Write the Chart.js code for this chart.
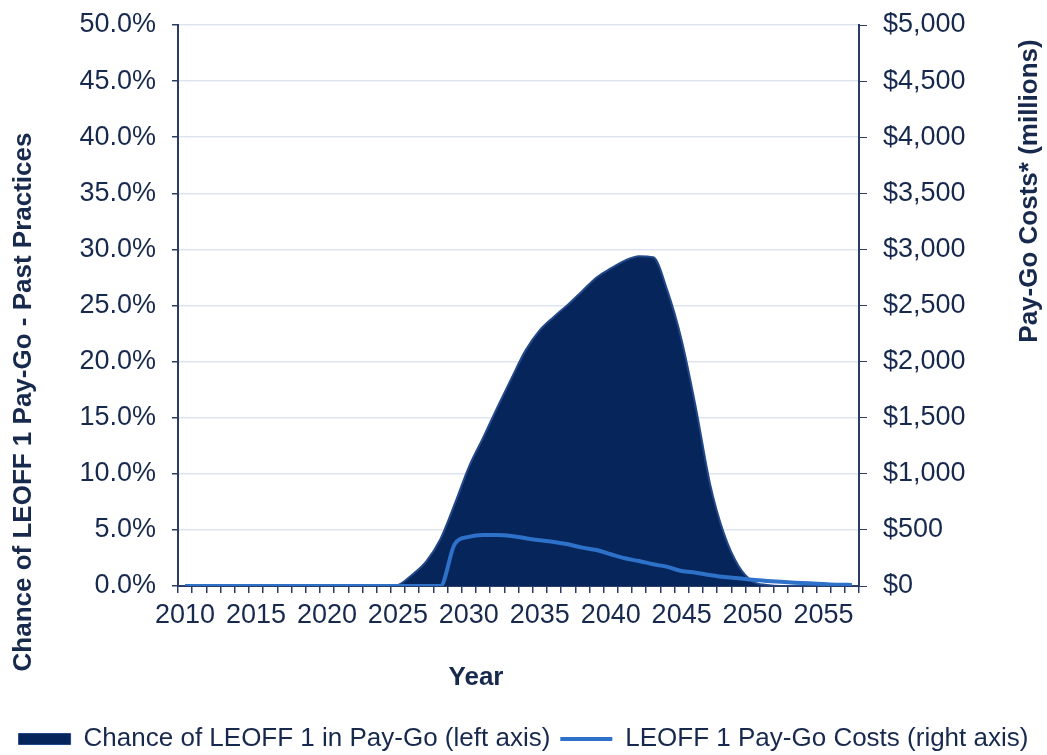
<!DOCTYPE html>
<html>
<head>
<meta charset="utf-8">
<title>LEOFF 1 Pay-Go</title>
<script src="https://cdn.jsdelivr.net/npm/chart.js@4.4.1/dist/chart.umd.min.js"></script>
<style>
  html, body { margin: 0; padding: 0; background: #ffffff; }
  #wrap { width: 1047px; height: 755px; }
</style>
</head>
<body>
<div id="wrap"><canvas id="payGoChart" width="1047" height="755"></canvas></div>
<script>
  // Data
  const years = [];
  for (let y = 2010; y <= 2057; y++) years.push(String(y));

  // chance of being in pay-go, percent (left axis)
  const chancePct = [
    0, 0, 0, 0, 0, 0, 0, 0, 0, 0,            // 2010-2019
    0, 0, 0, 0, 0, 0.1, 1.0, 2.2, 4.2, 7.3,  // 2020-2029
    10.6, 13.2, 15.9, 18.5, 21.0, 22.8, 24.0, 25.1, 26.3, 27.5, // 2030-2039
    28.3, 29.0, 29.4, 29.3, 26.3, 21.9, 15.9, 9.1, 4.6, 1.8,    // 2040-2049
    0.4, 0.1, 0, 0, 0, 0, 0, 0                // 2050-2057
  ];

  // pay-go costs, $ millions (right axis)
  const payGoCosts = [
    0, 0, 0, 0, 0, 0, 0, 0, 0, 0,
    0, 0, 0, 0, 0, 0, 0, 0, 0, 372,
    438, 455, 455, 446, 426, 408, 393, 372, 342, 321,
    283, 247, 223, 194, 170, 134, 119, 98, 80, 69,
    55, 45, 37, 30, 25, 18, 12, 10
  ];

  const leftTicks = { min: 0, max: 50, step: 5 };
  const rightTicks = { min: 0, max: 5000, step: 500 };

  const navy = "#17294d";
  const axisNavy = "#2a3d66";
  const gridColor = "#dfe4f2";
  const font = '"Liberation Sans", Arial, sans-serif';

  // axis titles are placed like the original (not centred on the axes)
  const axisTitles = {
    id: "axisTitles",
    afterDraw(chart) {
      const c = chart.ctx;
      c.save();
      c.fillStyle = navy;
      c.font = "bold 26px " + font;
      c.textAlign = "center";
      c.textBaseline = "middle";
      c.fillText("Year", 476, 678);

      c.save();
      c.translate(24, 402);
      c.rotate(-Math.PI / 2);
      c.fillText("Chance of LEOFF 1 Pay-Go - Past Practices", 0, 0);
      c.restore();

      c.save();
      c.translate(1030, 191);
      c.rotate(-Math.PI / 2);
      c.fillText("Pay-Go Costs* (millions)", 0, 0);
      c.restore();
      c.restore();
    },
  };

  // fixed axis size, no extra room for half tick labels
  function fixWidth(w) {
    return function (scale) {
      scale.width = w;
      scale.paddingTop = 0;
      scale.paddingBottom = 0;
    };
  }

  document.addEventListener("DOMContentLoaded", function () {
    const ctx = document.getElementById("payGoChart").getContext("2d");
    const payGoChart = new Chart(ctx, {
      type: "line",
      data: {
        labels: years,
        datasets: [
          {
            label: "LEOFF 1 Pay-Go Costs (right axis)",
            data: payGoCosts,
            yAxisID: "y1",
            borderColor: "#2e71c9",
            backgroundColor: "#2e71c9",
            borderWidth: 4,
            pointRadius: 0,
            fill: false,
            cubicInterpolationMode: "monotone",
            order: 1,
          },
          {
            label: "Chance of LEOFF 1 in Pay-Go (left axis)",
            data: chancePct,
            yAxisID: "y",
            borderColor: "#22488a",
            backgroundColor: "#06265b",
            borderWidth: 2,
            pointRadius: 0,
            fill: "origin",
            cubicInterpolationMode: "monotone",
            order: 2,
          },
        ],
      },
      options: {
        responsive: false,
        animation: false,
        layout: { padding: { top: 25, left: 0, right: 0, bottom: -7 } },
        plugins: {
          tooltip: { enabled: false },
          legend: {
            position: "bottom",
            labels: {
              color: navy,
              font: { family: font, size: 26 },
              usePointStyle: true,
              pointStyleWidth: 52,
              boxHeight: 11,
              padding: 10,
              generateLabels: function (chart) {
                return [
                  {
                    text: "Chance of LEOFF 1 in Pay-Go (left axis)",
                    fillStyle: "#06265b",
                    strokeStyle: "#22488a",
                    lineWidth: 1,
                    pointStyle: "rect",
                    fontColor: navy,
                    datasetIndex: 1,
                  },
                  {
                    text: "LEOFF 1 Pay-Go Costs (right axis)",
                    fillStyle: "#2e71c9",
                    strokeStyle: "#2e71c9",
                    lineWidth: 4,
                    pointStyle: "line",
                    fontColor: navy,
                    datasetIndex: 0,
                  },
                ];
              },
            },
          },
        },
        scales: {
          x: {
            type: "category",
            offset: true,
            afterFit: function (scale) { scale.height = 130; },
            grid: {
              offset: true,
              drawOnChartArea: false,
              tickColor: axisNavy,
              tickLength: 7,
              lineWidth: 1.5,
            },
            border: { color: axisNavy, width: 2 },
            ticks: {
              autoSkip: false,
              maxRotation: 0,
              padding: 6,
              color: navy,
              font: { family: font, size: 27 },
              callback: function (value, index) {
                const yr = Number(years[index]);
                return yr % 5 === 0 ? years[index] : "";
              },
            },
          },
          y: {
            position: "left",
            min: leftTicks.min,
            max: leftTicks.max,
            afterFit: fixWidth(178),
            grid: {
              color: gridColor,
              lineWidth: 1.5,
              tickColor: axisNavy,
              tickLength: 6,
            },
            border: { color: axisNavy, width: 2 },
            ticks: {
              stepSize: leftTicks.step,
              padding: 16,
              color: navy,
              font: { family: font, size: 27 },
              callback: function (v) { return v.toFixed(1) + "%"; },
            },
          },
          y1: {
            position: "right",
            min: rightTicks.min,
            max: rightTicks.max,
            afterFit: fixWidth(188),
            grid: {
              drawOnChartArea: false,
              tickColor: axisNavy,
              tickLength: 8,
            },
            border: { color: axisNavy, width: 2 },
            ticks: {
              stepSize: rightTicks.step,
              padding: 16,
              color: navy,
              font: { family: font, size: 27 },
              callback: function (v) { return "$" + v.toLocaleString("en-US"); },
            },
          },
        },
      },
      plugins: [axisTitles],
    });
  });
</script>
</body>
</html>
